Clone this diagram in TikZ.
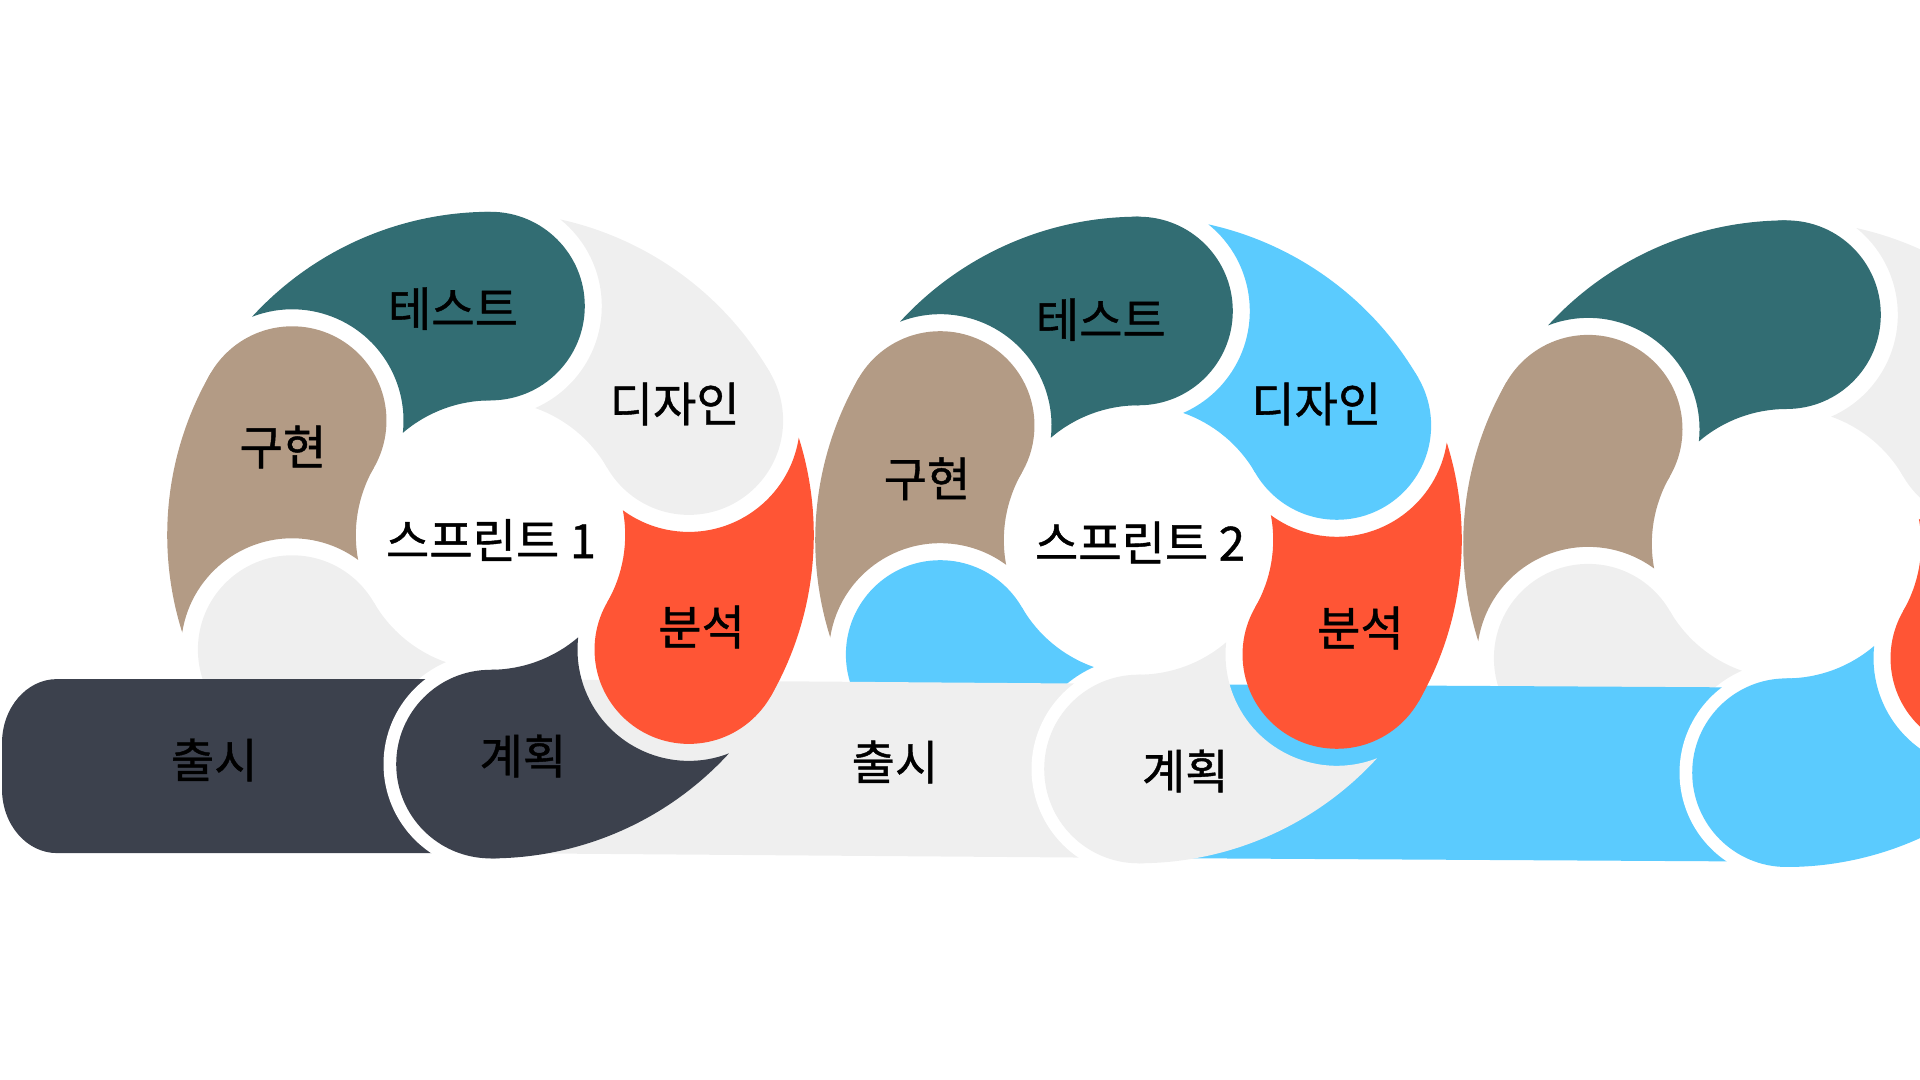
\documentclass[tikz,border=0pt]{standalone}
\usepackage{fontspec}
\newfontfamily\kr[FakeBold=0.9]{Noto Sans CJK KR}
\definecolor{tealc}{HTML}{326D73}
\definecolor{tanc}{HTML}{B39B85}
\definecolor{lgrayc}{HTML}{EFEFEF}
\definecolor{redc}{HTML}{FF5535}
\definecolor{darkc}{HTML}{3C414D}
\definecolor{bluec}{HTML}{5BCBFE}
% petal: #1 centre, #2 angle, #3 colour
\newcommand\drawpetal[3]{%
  \begin{scope}[shift={(#1)}]
    \fill[#3] (#2:\Ro) arc[start angle=#2, end angle=#2+60-\phio, radius=\Ro]
      arc[start angle=#2+60+\ao, end angle=#2+60+\ai, radius=\Rg]
      arc[start angle=#2+60-\phii, end angle=#2, radius=\Ri] -- cycle;
    \fill[#3] (#2:\Dd) circle[radius=\Rh];
  \end{scope}}
\newcommand\planring[1]{%
  \begin{scope}[shift={(#1)}]
    \clip (-3,-4) rectangle (0,0);
    \fill[white] (-90:\Dd) circle[radius=1.07];
  \end{scope}}
\tikzset{lbl/.style={font=\kr\fontsize{13.4}{15}\selectfont, text=black, inner sep=0pt}}
\begin{document}
\begin{tikzpicture}
\pgfmathsetmacro\Ro{3.233}
\pgfmathsetmacro\Dd{2.29}
\pgfmathsetmacro\Rh{0.943}
\pgfmathsetmacro\Ri{1.347}
\pgfmathsetmacro\Rg{1.113}
\pgfmathsetmacro\phio{acos((\Dd*\Dd+\Ro*\Ro-\Rg*\Rg)/(2*\Dd*\Ro))}
\pgfmathsetmacro\phii{acos((\Dd*\Dd+\Ri*\Ri-\Rg*\Rg)/(2*\Dd*\Ri))}
\pgfmathsetmacro\ao{atan2(-\Ro*sin(\phio),\Ro*cos(\phio)-\Dd)}
\pgfmathsetmacro\ai{atan2(-\Ri*sin(\phii),\Ri*cos(\phii)-\Dd)}
\useasboundingbox (0,0) rectangle (19.2,10.8);
\clip (0,0) rectangle (19.2,10.8);
\coordinate (S1) at (4.905,5.449);
\coordinate (S2) at (11.385,5.400);
\coordinate (S3) at (17.865,5.363);
\coordinate (B1t) at (4.905,4.009);
\coordinate (B1b) at (4.905,2.269);
\coordinate (B2t) at (11.385,3.960);
\coordinate (B2b) at (11.385,2.220);
\coordinate (B3t) at (17.865,3.923);
\coordinate (B3b) at (17.865,2.183);
% lower-left petals (under the bars)
\drawpetal{S1}{210}{lgrayc}
\drawpetal{S2}{210}{bluec}
\drawpetal{S3}{210}{lgrayc}
% bars
\fill[darkc] (B1t) -- (0.57,4.009) arc[start angle=90,end angle=180,x radius=0.55,y radius=0.64]
  -- (0.02,2.909) arc[start angle=180,end angle=270,x radius=0.55,y radius=0.64] -- (B1b) -- cycle;
\fill[lgrayc] (B1t) -- (B2t) -- (B2b) -- (B1b) -- cycle;
\fill[bluec] (B2t) -- (B3t) -- (B3b) -- (B2b) -- cycle;
% white rings of the planning heads
\planring{S1}
\planring{S2}
\planring{S3}
% spiral 1
\drawpetal{S1}{90}{tealc}
\drawpetal{S1}{30}{lgrayc}
\drawpetal{S1}{-30}{redc}
\drawpetal{S1}{-90}{darkc}
\drawpetal{S1}{150}{tanc}
% spiral 2
\drawpetal{S2}{90}{tealc}
\drawpetal{S2}{30}{bluec}
\drawpetal{S2}{-30}{redc}
\drawpetal{S2}{-90}{lgrayc}
\drawpetal{S2}{150}{tanc}
% spiral 3
\drawpetal{S3}{90}{tealc}
\drawpetal{S3}{30}{lgrayc}
\drawpetal{S3}{-30}{redc}
\drawpetal{S3}{-90}{bluec}
\drawpetal{S3}{150}{tanc}
% labels
\node[lbl] (t1) at (4.53,7.714) {테스트};
\node[lbl] (d1) at (6.747,6.76) {디자인};
\node[lbl] (g1) at (2.829,6.33) {구현};
\node[lbl] (s1) at (4.91,5.40) {스프린트 1};
\node[lbl] (b1) at (7.016,4.53) {분석};
\node[lbl] (p1) at (5.229,3.24) {계획};
\node[lbl] (r1) at (2.143,3.20) {출시};
\node[lbl] (t2) at (11.008,7.604) {테스트};
\node[lbl] (d2) at (13.163,6.76) {디자인};
\node[lbl] (g2) at (9.27,6.012) {구현};
\node[lbl] (s2) at (11.40,5.375) {스프린트 2};
\node[lbl] (b2) at (13.604,4.52) {분석};
\node[lbl] (p2) at (11.853,3.09) {계획};
\node[lbl] (r2) at (8.95,3.18) {출시};
\end{tikzpicture}
\end{document}
